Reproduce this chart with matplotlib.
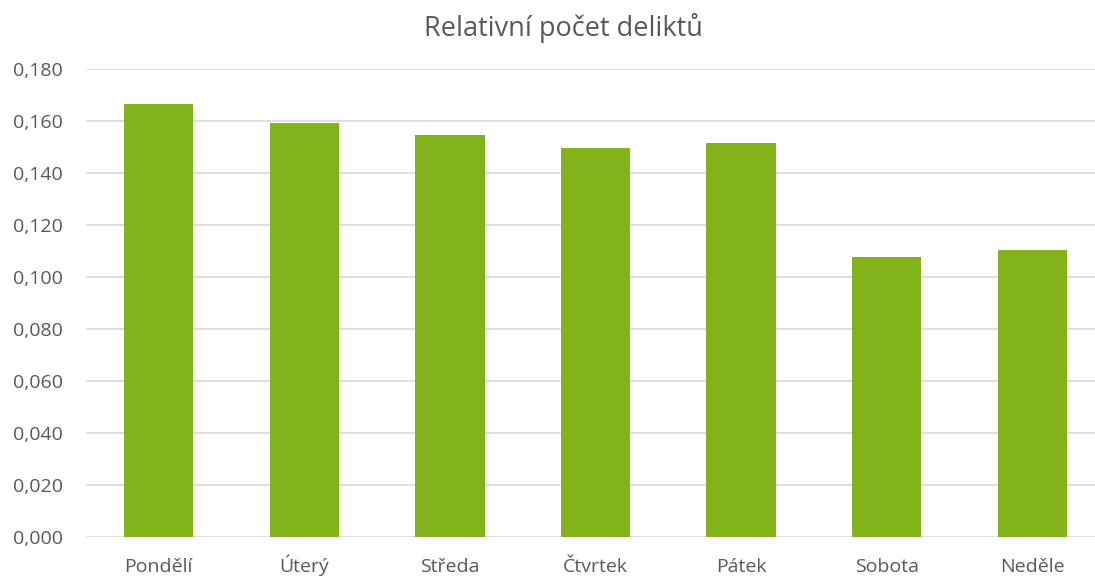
import matplotlib
matplotlib.use('Agg')
import matplotlib.pyplot as plt
from matplotlib.ticker import FuncFormatter

plt.rcParams['font.family'] = ['Open Sans', 'DejaVu Sans']

# data
dny = ['Pondělí', 'Úterý', 'Středa', 'Čtvrtek', 'Pátek', 'Sobota', 'Neděle']
podil = [0.1666, 0.1595, 0.1548, 0.1497, 0.1516, 0.1079, 0.1105]

text_col = '#595959'
grid_col = '#d9d9d9'

fig = plt.figure(figsize=(10.95, 5.77), dpi=100)
ax = fig.add_axes([0.0785, 0.0693, 0.9306, 0.8107])

ax.bar(range(len(dny)), podil, width=0.476, color='#82b31a', zorder=3)

ax.set_xlim(-0.5, len(dny) - 0.5)
ax.set_ylim(0, 0.18)
ax.set_yticks([i * 0.02 for i in range(10)])
ax.yaxis.set_major_formatter(FuncFormatter(lambda v, p: f'{v:.3f}'.replace('.', ',')))
ax.set_xticks(range(len(dny)))
ax.set_xticklabels(dny, va='baseline')

ax.grid(axis='y', color=grid_col, linewidth=1.2, zorder=0)
for s in ax.spines.values():
    s.set_visible(False)
ax.tick_params(axis='both', length=0, labelsize=14, colors=text_col)
ax.tick_params(axis='y', pad=16.5)
ax.tick_params(axis='x', pad=25)

fig.text(0.5146, 0.951, 'Relativní počet deliktů', ha='center', va='center',
         fontsize=19.5, color=text_col)

fig.savefig('out.png', dpi=100)
